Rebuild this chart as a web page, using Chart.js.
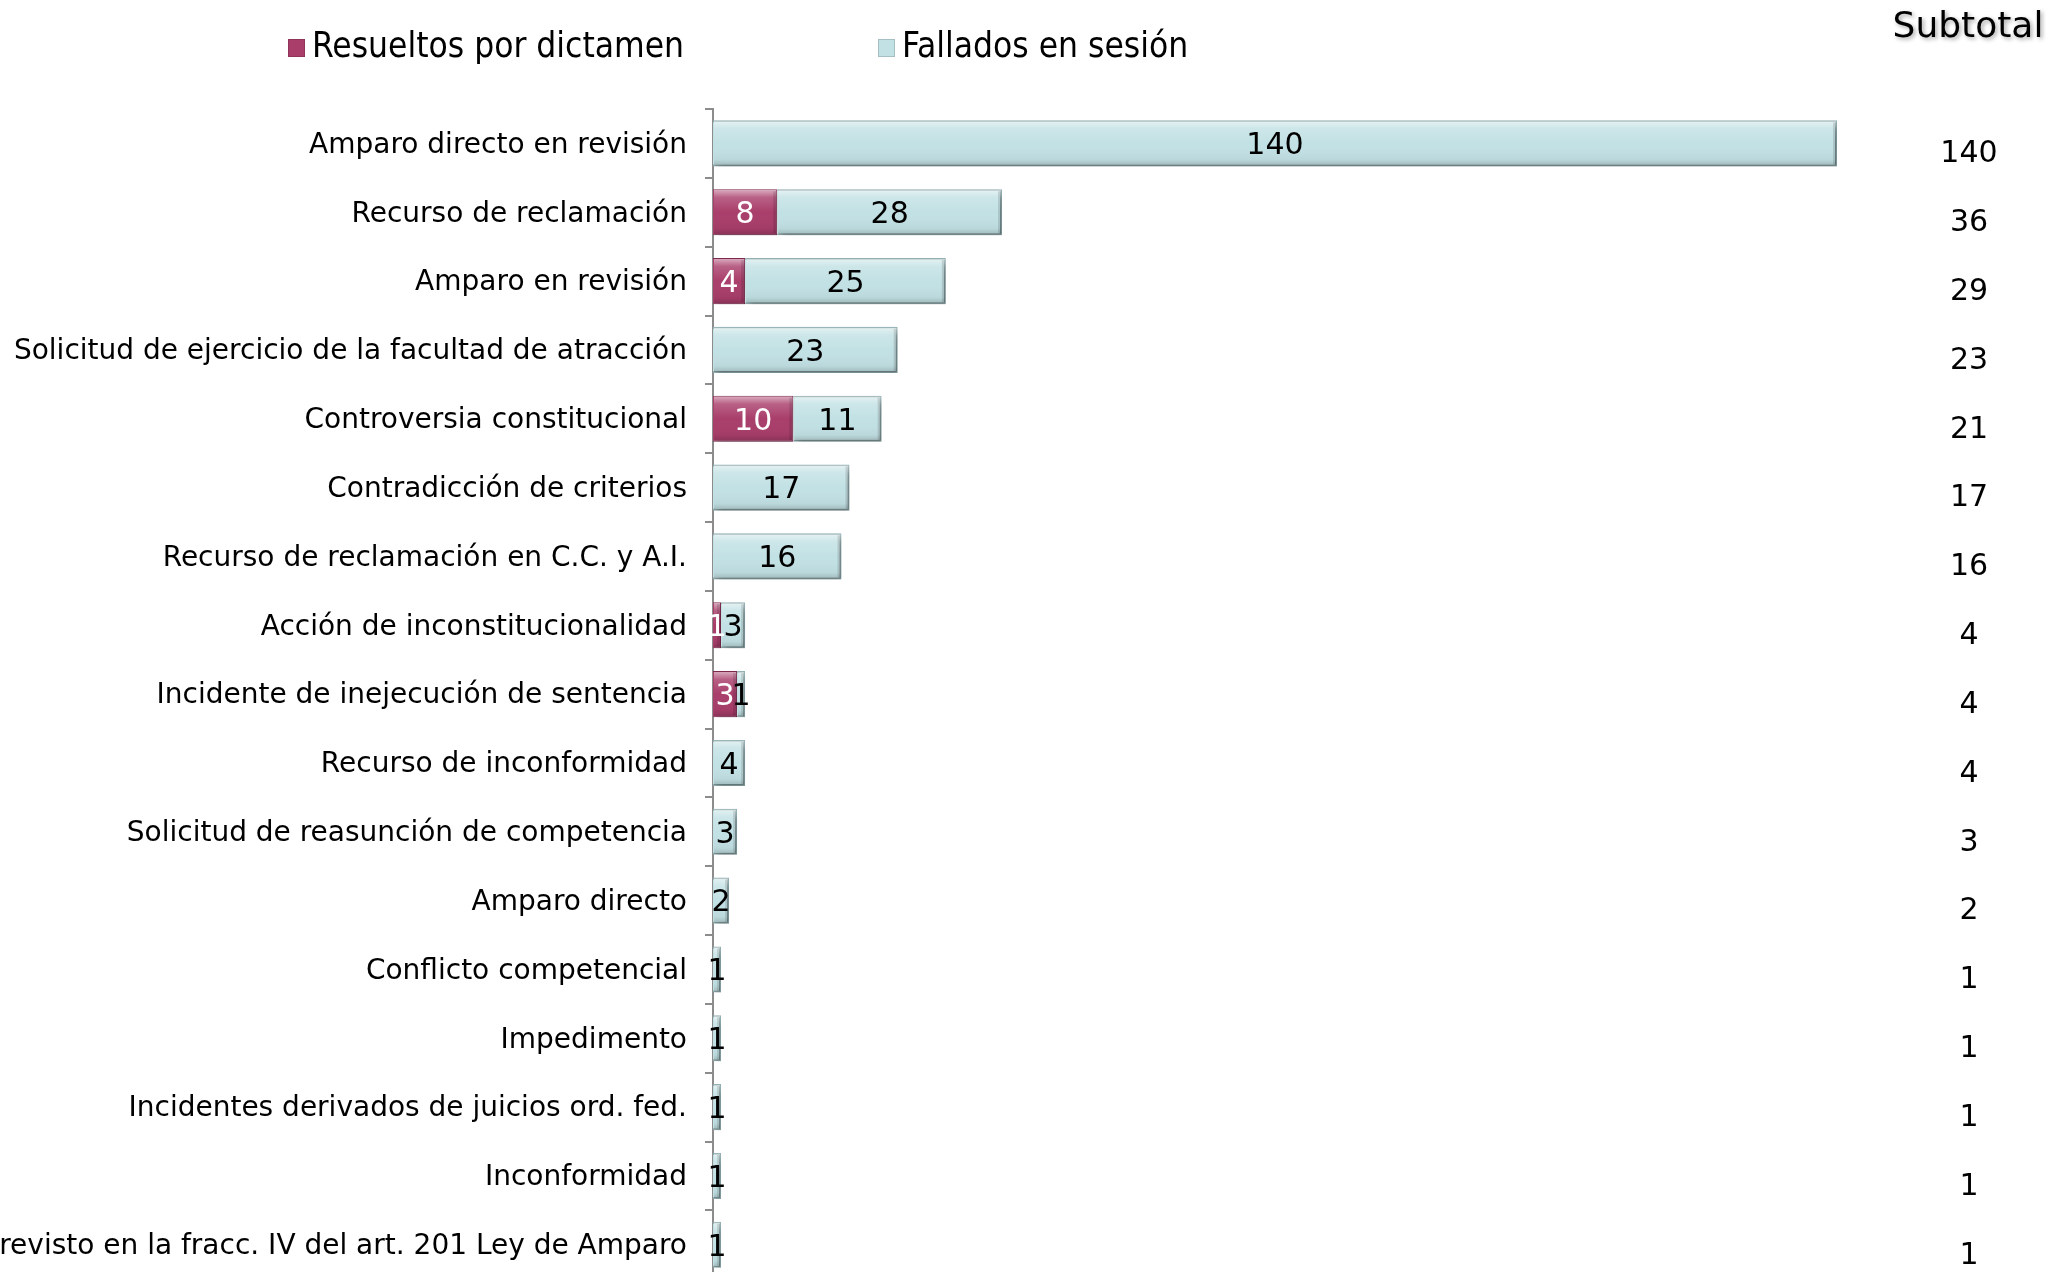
<!DOCTYPE html>
<html>
<head>
<meta charset="utf-8">
<script src="https://cdn.jsdelivr.net/npm/chart.js@4.4.1/dist/chart.umd.min.js"></script>
<style>
    html, body { margin: 0; padding: 0; background: #fff; overflow: hidden; }
    #wrap { width: 2065px; height: 1272px; overflow: hidden; position: relative; }
</style>
</head>
<body>
<div id="wrap"><canvas id="chart" width="2065" height="1314" style="width:2065px;height:1314px"></canvas></div>
<script>
// Chart data
const categories = [
    "Amparo directo en revisión",
    "Recurso de reclamación",
    "Amparo en revisión",
    "Solicitud de ejercicio de la facultad de atracción",
    "Controversia constitucional",
    "Contradicción de criterios",
    "Recurso de reclamación en C.C. y A.I.",
    "Acción de inconstitucionalidad",
    "Incidente de inejecución de sentencia",
    "Recurso de inconformidad",
    "Solicitud de reasunción de competencia",
    "Amparo directo",
    "Conflicto competencial",
    "Impedimento",
    "Incidentes derivados de juicios ord. fed.",
    "Inconformidad",
    "Previsto en la fracc. IV del art. 201 Ley de Amparo"
];
const resueltos = [0, 8, 4, 0, 10, 0, 0, 1, 3, 0, 0, 0, 0, 0, 0, 0, 0];
const fallados = [140, 28, 25, 23, 11, 17, 16, 3, 1, 4, 3, 2, 1, 1, 1, 1, 1];
const subtotales = [140, 36, 29, 23, 21, 17, 16, 4, 4, 4, 3, 2, 1, 1, 1, 1, 1];
const seriesNames = ["Resueltos por dictamen", "Fallados en sesión"];

const MAGENTA = '#A93E6B';
const CYAN = '#C2E1E4';
const FONT = '"DejaVu Sans", Verdana, sans-serif';

// soft shadow under the bars, then bevel and value labels on top
const shadowPlugin = {
    id: 'barShadow',
    beforeDatasetsDraw(chart) {
        const ctx = chart.ctx;
        ctx.save();
        ctx.shadowColor = 'rgba(0,0,0,0.22)';
        ctx.shadowBlur = 6;
        ctx.shadowOffsetX = 4;
        ctx.shadowOffsetY = 5;
    },
    afterDatasetsDraw(chart) {
        const ctx = chart.ctx;
        ctx.restore();

        chart.data.datasets.forEach((ds, di) => {
            const meta = chart.getDatasetMeta(di);
            meta.data.forEach((bar, i) => {
                const v = ds.data[i];
                if (!v) return;
                const p = bar.getProps(['x', 'y', 'base', 'height'], true);
                const left = Math.min(p.base, p.x), right = Math.max(p.base, p.x);
                const top = p.y - p.height / 2, h = p.height;
                const g = ctx.createLinearGradient(0, top, 0, top + h);
                g.addColorStop(0, 'rgba(255,255,255,0.6)');
                g.addColorStop(0.18, 'rgba(255,255,255,0.18)');
                g.addColorStop(0.5, 'rgba(255,255,255,0)');
                g.addColorStop(0.85, 'rgba(0,0,0,0.04)');
                g.addColorStop(1, 'rgba(0,0,0,0.2)');
                ctx.save();
                ctx.fillStyle = g;
                ctx.fillRect(left + 1, top + 1, right - left - 2, h - 2);
                // darker right edge
                ctx.fillStyle = 'rgba(0,0,0,0.12)';
                ctx.fillRect(right - 4, top + 2, 3, h - 4);
                ctx.restore();
            });
        });
        chart.data.datasets.forEach((ds, di) => {
            const meta = chart.getDatasetMeta(di);
            meta.data.forEach((bar, i) => {
                const v = ds.data[i];
                if (!v) return;
                const p = bar.getProps(['x', 'y', 'base'], true);
                ctx.save();
                ctx.font = '30px ' + FONT;
                ctx.fillStyle = di === 0 ? '#fff' : '#000';
                ctx.textAlign = 'center';
                ctx.textBaseline = 'middle';
                ctx.fillText(String(v), (p.base + p.x) / 2, p.y + 3);
                ctx.restore();
            });
        });
    }
};

// legend, subtotal header and subtotal column
const extrasPlugin = {
    id: 'extras',
    afterDraw(chart) {
        const ctx = chart.ctx;
        const yScale = chart.scales.y;

        // legend
        const items = [
            { x: 288, color: MAGENTA, text: seriesNames[0] },
            { x: 878, color: CYAN, text: seriesNames[1] }
        ];
        ctx.save();
        ctx.font = '35px "DejaVu Sans Condensed", "Liberation Sans Narrow", ' + FONT;
        ctx.textBaseline = 'middle';
        ctx.textAlign = 'left';
        items.forEach(it => {
            ctx.fillStyle = it.color;
            ctx.fillRect(it.x, 39, 17, 18);
            ctx.strokeStyle = 'rgba(0,0,0,0.15)';
            ctx.lineWidth = 1;
            ctx.strokeRect(it.x + 0.5, 39.5, 16, 17);
            ctx.fillStyle = '#000';
            ctx.fillText(it.text, it.x + 24, 48);
        });
        ctx.restore();

        // header
        ctx.save();
        ctx.font = '36px ' + FONT;
        ctx.textAlign = 'center';
        ctx.textBaseline = 'middle';
        ctx.shadowColor = 'rgba(0,0,0,0.35)';
        ctx.shadowBlur = 4;
        ctx.shadowOffsetX = 2;
        ctx.shadowOffsetY = 2;
        ctx.fillStyle = '#000';
        ctx.fillText('Subtotal', 1968, 28);
        ctx.restore();

        // subtotal values
        ctx.save();
        ctx.font = '30px ' + FONT;
        ctx.textAlign = 'center';
        ctx.textBaseline = 'middle';
        ctx.fillStyle = '#000';
        subtotales.forEach((v, i) => {
            ctx.fillText(String(v), 1969, yScale.getPixelForValue(i) + 11);
        });
        ctx.restore();
    }
};

const ctx = document.getElementById('chart').getContext('2d');
const chart = new Chart(ctx, {
    type: 'bar',
    data: {
        labels: categories,
        datasets: [
            {
                label: seriesNames[0],
                data: resueltos,
                backgroundColor: MAGENTA,
                borderColor: '#7E2A4D',
                borderWidth: 1,
                categoryPercentage: 0.67,
                barPercentage: 1
            },
            {
                label: seriesNames[1],
                data: fallados,
                backgroundColor: CYAN,
                borderColor: '#93B0B3',
                borderWidth: 2,
                categoryPercentage: 0.67,
                barPercentage: 1
            }
        ]
    },
    options: {
        indexAxis: 'y',
        responsive: false,
        animation: false,
        layout: {
            padding: { left: 0, right: 228, top: 109, bottom: 5 }
        },
        scales: {
            x: {
                stacked: true,
                display: false,
                min: 0,
                max: 140
            },
            y: {
                stacked: true,
                grid: {
                    drawOnChartArea: false,
                    drawTicks: true,
                    tickLength: 8,
                    color: '#8c8c8c',
                    lineWidth: 2
                },
                border: { color: '#8c8c8c', width: 2 },
                ticks: {
                    autoSkip: false,
                    padding: 18,
                    labelOffset: 2,
                    color: '#000',
                    font: { family: FONT, size: 28 }
                },
                afterFit(scale) {
                    scale.width = 713;  // axis line sits at x = 713
                }
            }
        },
        plugins: {
            legend: { display: false },
            tooltip: { enabled: false }
        }
    },
    plugins: [shadowPlugin, extrasPlugin]
});
</script>
</body>
</html>
